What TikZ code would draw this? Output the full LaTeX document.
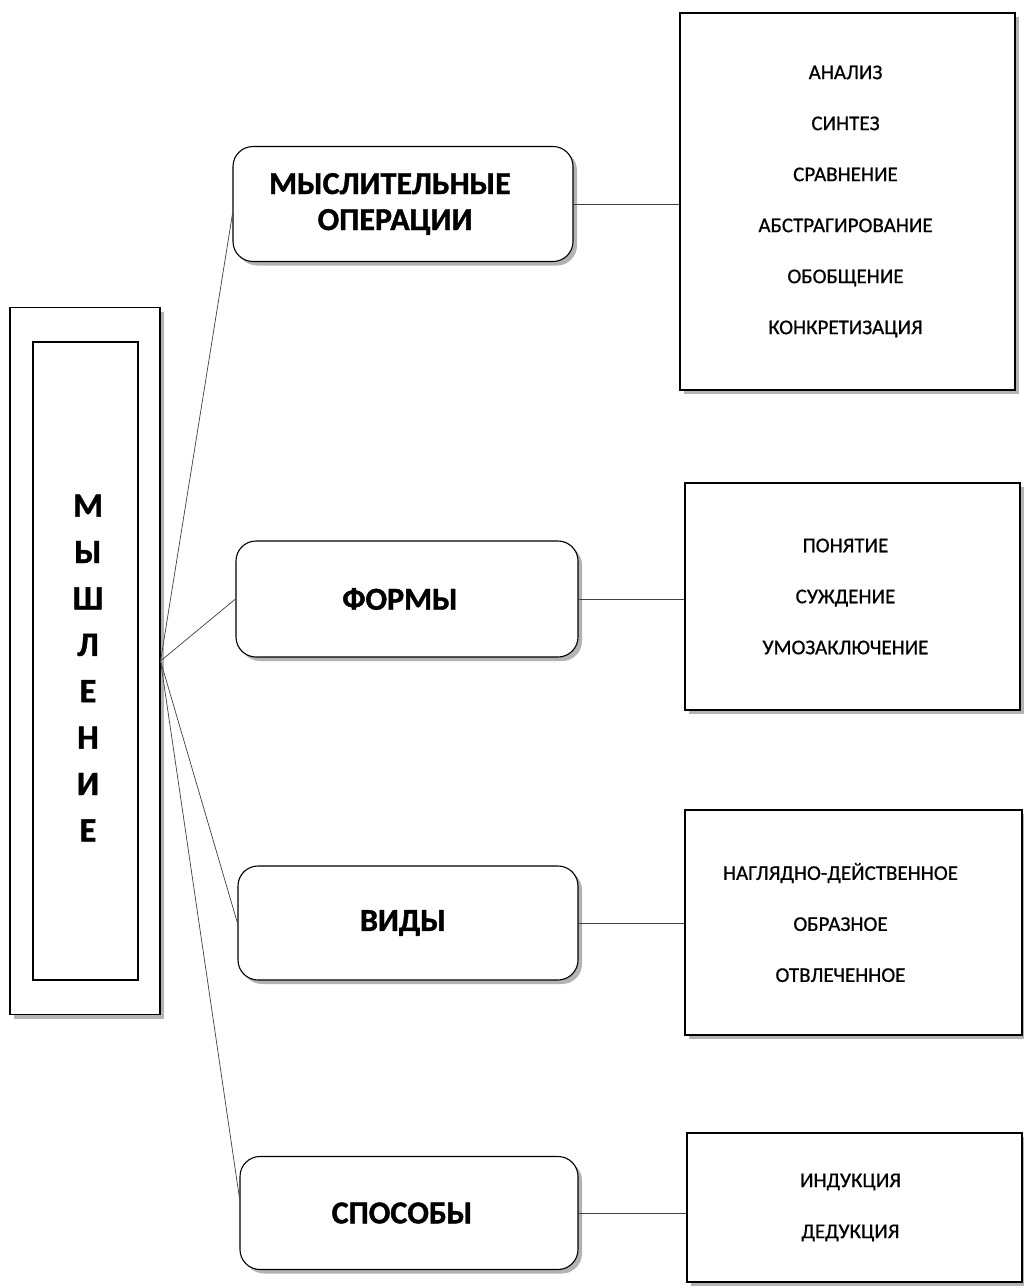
\documentclass[tikz,border=0pt]{standalone}
\usepackage{fontspec}
\setmainfont{Carlito}
\newfontfamily\heavyfont[FakeBold=1.2]{Carlito Bold}
\newfontfamily\listfont[FakeBold=0.6]{Carlito}
\usetikzlibrary{shadows,calc}
\begin{document}
\begin{tikzpicture}[x=1pt,y=-1pt,
  shd/.style={drop shadow={shadow xshift=4pt,shadow yshift=-4pt,fill=black!35,opacity=0.85}},
  mainbox/.style={draw=black,line width=1.1pt,fill=white,shd,inner sep=0pt},
  rbox/.style={draw=black,line width=1.1pt,fill=white,rounded corners=20pt,shd,inner sep=0pt},
  rtext/.style={font=\fontsize{32}{36}\heavyfont,align=center},
  lbox/.style={draw=black,line width=1.1pt,fill=white,shd,inner sep=0pt},
  ltext/.style={font=\fontsize{21}{51}\listfont,align=center},
  conn/.style={draw=black!75,line width=0.7pt}]
\useasboundingbox (0,0) rectangle (1024,1286);
\fill[white] (0,0) rectangle (1024,1286);

% main box
\node[mainbox,minimum width=150pt,minimum height=707pt] (mainout) at (85,661) {};
\node[draw=black,line width=1.1pt,minimum width=105pt,minimum height=638pt,inner sep=0pt] (mainin) at (85.5,661) {};
\node[font=\fontsize{34}{46.4}\heavyfont,align=center] (title) at (88,668)
  {М\\Ы\\Ш\\Л\\Е\\Н\\И\\Е};

% middle rounded boxes
\node[rbox,minimum width=340pt,minimum height=115pt,
  label={[rtext,xshift=-13pt]center:МЫСЛИТЕЛЬНЫЕ\\\hspace*{10pt}ОПЕРАЦИИ}] (b1) at (403,204) {};
\node[rbox,minimum width=342pt,minimum height=116pt,
  label={[rtext,xshift=-7pt]center:ФОРМЫ}] (b2) at (407,599) {};
\node[rbox,minimum width=340pt,minimum height=114pt,
  label={[rtext,xshift=-5pt]center:ВИДЫ}] (b3) at (408,923) {};
\node[rbox,minimum width=338pt,minimum height=113pt,
  label={[rtext,xshift=-7pt]center:СПОСОБЫ}] (b4) at (409,1213) {};

% right boxes
\node[lbox,minimum width=335pt,minimum height=377pt,
  label={[ltext,xshift=-2pt]center:АНАЛИЗ\\СИНТЕЗ\\СРАВНЕНИЕ\\АБСТРАГИРОВАНИЕ\\ОБОБЩЕНИЕ\\КОНКРЕТИЗАЦИЯ}]
  (r1) at (847.5,201.5) {};
\node[lbox,minimum width=335pt,minimum height=227pt,
  label={[ltext,xshift=-7pt]center:ПОНЯТИЕ\\СУЖДЕНИЕ\\УМОЗАКЛЮЧЕНИЕ}]
  (r2) at (852.5,596.5) {};
\node[lbox,minimum width=337pt,minimum height=225pt,
  label={[ltext,xshift=-13pt]center:НАГЛЯДНО-ДЕЙСТВЕННОЕ\\ОБРАЗНОЕ\\ОТВЛЕЧЕННОЕ}]
  (r3) at (853.5,922.5) {};
\node[lbox,minimum width=335pt,minimum height=149pt,
  label={[ltext,xshift=-4pt]center:ИНДУКЦИЯ\\ДЕДУКЦИЯ}]
  (r4) at (854.5,1207.5) {};

% connectors
\draw[conn] (mainout.east) -- ($(b1.west)+(0,10)$);
\draw[conn] (mainout.east) -- (b2.west);
\draw[conn] (mainout.east) -- (b3.west);
\draw[conn] (mainout.east) -- ($(b4.west)+(0,-15)$);
\draw[conn] (b1.east) -- (b1.east -| r1.west);
\draw[conn] (b2.east) -- (b2.east -| r2.west);
\draw[conn] (b3.east) -- (b3.east -| r3.west);
\draw[conn] (b4.east) -- (b4.east -| r4.west);
\end{tikzpicture}
\end{document}
